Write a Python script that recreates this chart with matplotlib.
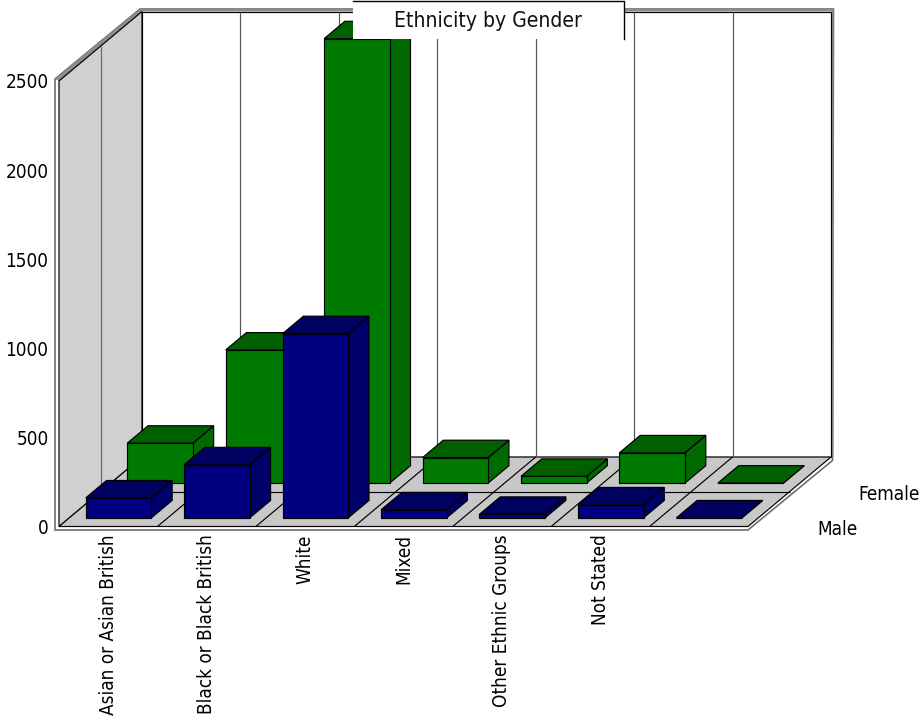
import matplotlib
matplotlib.use("Agg")
import matplotlib.pyplot as plt
from matplotlib.patches import Polygon

categories = ["Asian or Asian British", "Black or Black British", "White", "Mixed",
              "Other Ethnic Groups", "Not Stated", ""]
male = [112, 298, 1034, 45, 20, 73, 0]
female = [224, 747, 2494, 143, 38, 170, 0]
series_names = ["Male", "Female"]
y_ticks = [0, 500, 1000, 1500, 2000, 2500]

W, H = 921, 716
fig = plt.figure(figsize=(W / 100, H / 100), dpi=100, facecolor="white")
# The axes rectangle is the front plane of the 3D box
L, R, B, T = 59, 748, 526.5, 81
ax = fig.add_axes([L / W, 1 - B / H, (R - L) / W, (B - T) / H])
ax.set_xlim(0, len(categories))
ax.set_ylim(0, 2500)
ax.patch.set_visible(False)
for s in ax.spines.values():
    s.set_visible(False)

PX = len(categories) / (R - L)      # data units per pixel, horizontally
PY = 2500 / (B - T)                 # data units per pixel, vertically
DX, DY = 83 * PX, 69.5 * PY         # oblique offset of the full depth

FONT = dict(family="DejaVu Sans", stretch="condensed")
FS = 13.6
EDGE = 0.85


def proj(x, depth, v):
    return (x + depth * DX, v + depth * DY)


def poly(pts, fc, ec="black", lw=EDGE, z=1):
    ax.add_patch(Polygon(pts, closed=True, facecolor=fc, edgecolor=ec, linewidth=lw,
                         zorder=z, clip_on=False, joinstyle="miter"))


def line(a, b, color="black", lw=EDGE, z=2):
    ax.plot([a[0], b[0]], [a[1], b[1]], color=color, lw=lw, zorder=z, clip_on=False,
            solid_capstyle="butt")


n = len(categories)
# Outer slab behind the walls and floor
poly([(-4 * PX, -3.5 * PY), (n, -3.5 * PY), (n + 84.5 * PX, 66 * PY),
      (n + DX + 2.5 * PX, 2500 + DY + 2.5 * PY), (DX - 2 * PX, 2500 + DY + 2.5 * PY),
      (-4 * PX, 2500 + 2 * PY)],
     "white", ec="#6e6e6e", lw=1.2, z=0.5)
# Bevel along the top and right of the box
poly([(-4 * PX, 2500 + 2 * PY), (DX - 2 * PX, 2500 + DY + 2.5 * PY),
      (n + DX + 2.5 * PX, 2500 + DY + 2.5 * PY), (n + DX, 2500 + DY), (DX, 2500 + DY), (0, 2500)],
     "#8c8c8c", ec="none", z=0.6)
poly([(n + DX, DY), (n + DX + 2.5 * PX, DY), (n + DX + 2.5 * PX, 2500 + DY + 2.5 * PY),
      (n + DX, 2500 + DY)], "#8c8c8c", ec="none", z=0.6)

# Walls and floor
poly([proj(0, 0, 0), proj(0, 1, 0), proj(0, 1, 2500), proj(0, 0, 2500)], "#d0d0d0", z=1)
poly([proj(0, 1, 0), proj(n, 1, 0), proj(n, 1, 2500), proj(0, 1, 2500)], "white", z=1)
poly([proj(0, 0, 0), proj(n, 0, 0), proj(n, 1, 0), proj(0, 1, 0)], "#c8c8c8", z=1.1)

# Grid on the walls and floor
line(proj(0, 0.5, 0), proj(0, 0.5, 2500), color="#666666", z=1.2)
line(proj(0, 0.5, 0), proj(n, 0.5, 0), z=1.2)
for i in range(1, n):
    line(proj(i, 1, 0), proj(i, 1, 2500), color="#555555", z=1.2)
    line(proj(i, 0, 0), proj(i, 1, 0), z=1.2)


def bar3d(i, row, value, colors, z):
    x0, x1 = i + 1 / 6, i + 5 / 6
    d0, d1 = row + 0.125, row + 0.375
    front, top, side = colors
    poly([proj(x1, d0, 0), proj(x1, d1, 0), proj(x1, d1, value), proj(x1, d0, value)], side, z=z)
    poly([proj(x0, d0, value), proj(x1, d0, value), proj(x1, d1, value), proj(x0, d1, value)], top, z=z)
    poly([proj(x0, d0, 0), proj(x1, d0, 0), proj(x1, d0, value), proj(x0, d0, value)], front, z=z)


GREEN = ("#007a00", "#006000", "#006a00")
BLUE = ("#000080", "#000060", "#00006a")
z = 2.0
for i, v in enumerate(female):
    z += 0.01
    bar3d(i, 0.5, v, GREEN, z)
for i, v in enumerate(male):
    z += 0.01
    bar3d(i, 0.0, v, BLUE, z)

# Axis labels
ax.set_yticks(y_ticks)
ax.set_yticklabels([str(t) for t in y_ticks], fontsize=FS, color="black", **FONT)
ax.tick_params(axis="y", length=0, pad=7.5)
ax.set_xticks([i + 0.5 for i in range(n)])
ax.set_xticklabels(categories, rotation=90, fontsize=FS, color="black", va="top", ha="center", **FONT)
ax.tick_params(axis="x", length=0, pad=5.5)

# Series names along the depth axis
for depth, name in zip((0.25, 0.75), series_names):
    x, y = proj(n, depth, 0)
    ax.annotate(name, (x, y), xytext=(48.5 * 0.72, -20 * 0.72), textcoords="offset points",
                ha="left", va="center", fontsize=FS, annotation_clip=False, zorder=6, **FONT)

# Title panel: open on its left and bottom sides
bx0, bx1 = 353 / W, 623.5 / W
by = 1 - 39 / H
fig.add_artist(plt.Rectangle((bx0, by), bx1 - bx0, 1 - by, transform=fig.transFigure,
                             facecolor="white", edgecolor="none", zorder=10))
fig.add_artist(plt.Line2D([bx0, bx1, bx1], [1 - 0.7 / H, 1 - 0.7 / H, by],
                          transform=fig.transFigure, color="black", lw=1, zorder=11))
fig.text(487.5 / W, 1 - 21 / H, "Ethnicity by Gender", ha="center", va="center",
         fontsize=15.1, color="#111111", zorder=12, **FONT)

fig.savefig("out.png", dpi=100)
